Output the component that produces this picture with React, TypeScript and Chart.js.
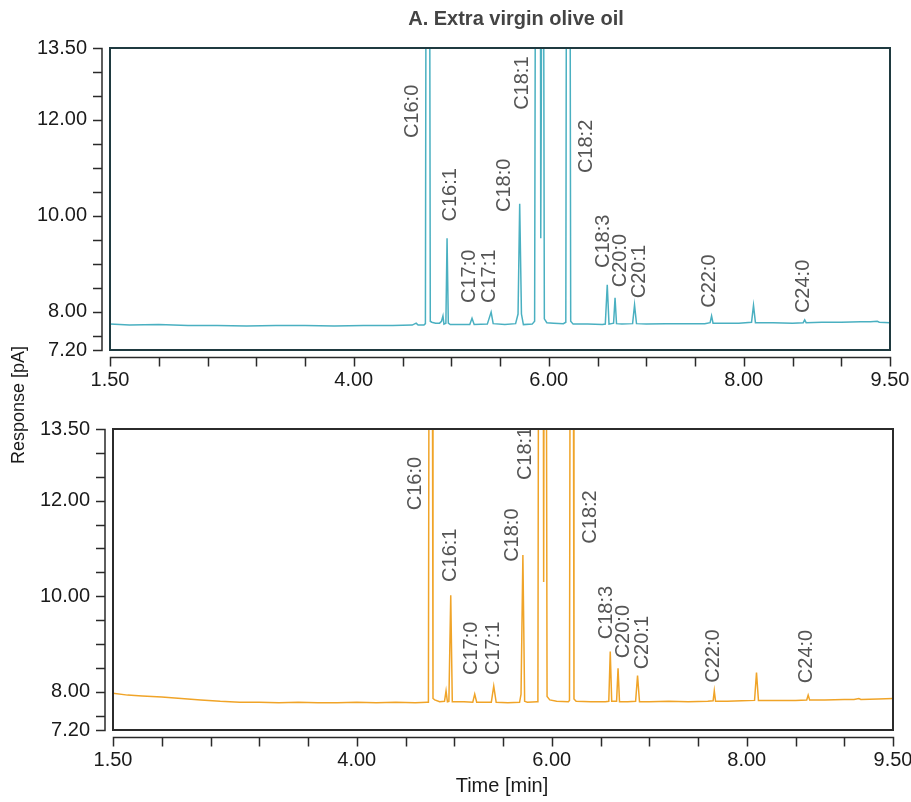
import React, { useEffect, useRef } from "react";
import { Chart, registerables } from "chart.js";

Chart.register(...registerables);

const FONT = '"Liberation Sans", Arial, Helvetica, sans-serif';

// ---- axis ticks ----
const X_TICKS = [1.5, 2, 2.5, 3, 3.5, 4, 4.5, 5, 5.5, 6, 6.5, 7, 7.5, 8, 8.5, 9, 9.5];
const X_LABELED = [1.5, 4, 6, 8, 9.5];
const Y_TICKS = [7.2, 7.5, 8, 8.5, 9, 9.5, 10, 10.5, 11, 11.5, 12, 12.5, 13, 13.5];
const Y_LABELED = [7.2, 8, 10, 12, 13.5];

// ---- panel A (top, teal) trace ----
const TIME_A = [
  1.5, 1.7, 2.0, 2.3, 2.6, 2.9, 3.2, 3.5, 3.8, 4.1, 4.4, 4.6, 4.64, 4.66, 4.72,
  4.735, 4.745, 4.775, 4.785, 4.8, 4.84, 4.88, 4.9, 4.915, 4.925, 4.945, 4.957, 4.97, 4.99,
  5.1, 5.19, 5.213, 5.235, 5.37, 5.409, 5.43, 5.55, 5.66, 5.685, 5.702, 5.72, 5.74, 5.83,
  5.855, 5.868, 5.912, 5.918, 5.924, 5.932, 5.942, 5.955, 5.98, 6.05, 6.15,
  6.175, 6.185, 6.215, 6.225, 6.25, 6.4, 6.55,
  6.58, 6.6, 6.618, 6.665, 6.68, 6.695, 6.75, 6.86, 6.88, 6.9, 7.0, 7.2, 7.4, 7.6,
  7.655, 7.67, 7.685, 7.8, 7.95, 8.08, 8.1, 8.12, 8.3, 8.5, 8.61, 8.625, 8.64,
  8.8, 9.0, 9.2, 9.3, 9.37, 9.39, 9.5,
];
const RESP_A = [
  7.74, 7.72, 7.73, 7.71, 7.71, 7.70, 7.71, 7.71, 7.70, 7.71, 7.71, 7.72, 7.76, 7.72, 7.72,
  7.75, 20, 20, 7.80, 7.78, 7.76, 7.76, 7.80, 7.91, 7.74, 7.76, 9.53, 7.76, 7.73,
  7.73, 7.73, 7.86, 7.73, 7.74, 7.99, 7.75, 7.73, 7.75, 7.95, 10.25, 7.95, 7.73, 7.74,
  7.80, 20, 20, 9.53, 12.62, 20, 20, 7.85, 7.77, 7.76, 7.75,
  7.78, 20, 20, 7.80, 7.74, 7.74, 7.73,
  7.74, 8.56, 7.74, 7.76, 8.29, 7.75, 7.74, 7.75, 8.14, 7.75, 7.74, 7.75, 7.75, 7.75,
  7.77, 7.91, 7.76, 7.76, 7.76, 7.78, 8.13, 7.77, 7.77, 7.76, 7.77, 7.83, 7.77,
  7.78, 7.78, 7.79, 7.79, 7.80, 7.78, 7.77,
];

// ---- panel B (bottom, orange) trace ----
const TIME_B = [
  1.5, 1.65, 1.8, 2.0, 2.2, 2.4, 2.6, 2.8, 3.0, 3.2, 3.4, 3.6, 3.8, 4.0, 4.2, 4.4, 4.6, 4.72,
  4.735, 4.745, 4.772, 4.782, 4.8, 4.85, 4.9, 4.916, 4.93, 4.945, 4.964, 4.98, 5.1,
  5.19, 5.21, 5.23, 5.38, 5.405, 5.43, 5.55, 5.67, 5.685, 5.704, 5.722, 5.75, 5.85,
  5.858, 5.868, 5.91, 5.917, 5.925, 5.94, 5.952, 5.98, 6.05, 6.17,
  6.182, 6.192, 6.218, 6.228, 6.25, 6.4, 6.55,
  6.585, 6.6, 6.615, 6.665, 6.68, 6.695, 6.78, 6.86, 6.88, 6.9, 7.0, 7.2, 7.4, 7.6,
  7.655, 7.667, 7.68, 7.8, 7.95, 8.08, 8.1, 8.12, 8.3, 8.5, 8.615, 8.63, 8.645,
  8.8, 9.0, 9.1, 9.15, 9.17, 9.35, 9.5,
];
const RESP_B = [
  7.97, 7.93, 7.91, 7.89, 7.86, 7.83, 7.80, 7.78, 7.78, 7.77, 7.78, 7.77, 7.77, 7.78, 7.77, 7.78, 7.77, 7.78,
  7.78, 20, 20, 7.86, 7.83, 7.79, 7.80, 8.02, 7.79, 7.80, 10.02, 7.79, 7.79,
  7.78, 7.95, 7.78, 7.78, 8.12, 7.78, 7.77, 7.78, 7.95, 10.86, 7.80, 7.78, 7.79,
  7.80, 20, 20, 10.30, 20, 20, 7.90, 7.83, 7.80, 7.79,
  7.82, 20, 20, 7.85, 7.80, 7.79, 7.79,
  7.80, 8.84, 7.80, 7.80, 8.49, 7.79, 7.79, 7.80, 8.34, 7.79, 7.79, 7.80, 7.79, 7.80,
  7.81, 8.02, 7.80, 7.80, 7.81, 7.82, 8.40, 7.82, 7.82, 7.82, 7.83, 7.93, 7.83,
  7.83, 7.84, 7.84, 7.86, 7.84, 7.85, 7.86,
];

// ---- peak annotations (time at label centre, response where label starts) ----
const PEAK_NAMES = ["C16:0", "C16:1", "C17:0", "C17:1", "C18:0", "C18:1", "C18:2", "C18:3", "C20:0", "C20:1", "C22:0", "C24:0"];
const PEAK_TIME_A = [4.6, 4.99, 5.186, 5.39, 5.55, 5.727, 6.385, 6.56, 6.736, 6.926, 7.645, 8.615];
const PEAK_RESP_A = [11.62, 9.88, 8.18, 8.18, 10.08, 12.21, 10.89, 8.91, 8.51, 8.28, 8.08, 7.97];
const PEAK_TIME_B = [4.6, 4.957, 5.18, 5.4, 5.594, 5.727, 6.394, 6.566, 6.736, 6.93, 7.66, 8.61];
const PEAK_RESP_B = [11.8, 10.3, 8.35, 8.35, 10.72, 12.43, 11.1, 9.1, 8.7, 8.47, 8.19, 8.18];

const TITLE = "A. Extra virgin olive oil";
const X_TITLE = "Time [min]";
const Y_TITLE = "Response [pA]";

const isIn = (arr: number[], v: number) => arr.some((a) => Math.abs(a - v) < 1e-6);

function decorPlugin(o: {
  frameColor: string;
  title?: string;
  xTitle?: string;
  times: number[];
  resps: number[];
}) {
  return {
    id: "decor",
    afterDraw(chart: any) {
      const { ctx, chartArea: a, scales } = chart;
      const xs = scales.x;
      const ys = scales.y;
      ctx.save();
      // peak labels (clipped to plot area)
      ctx.save();
      ctx.beginPath();
      ctx.rect(a.left, a.top, a.right - a.left, a.bottom - a.top);
      ctx.clip();
      ctx.fillStyle = "#555555";
      ctx.font = `20px ${FONT}`;
      ctx.textAlign = "left";
      ctx.textBaseline = "middle";
      PEAK_NAMES.forEach((n, i) => {
        const px = xs.getPixelForValue(o.times[i]);
        const py = ys.getPixelForValue(o.resps[i]);
        ctx.save();
        ctx.translate(px, py);
        ctx.rotate(-Math.PI / 2);
        ctx.fillText(n, 0, 0);
        ctx.restore();
      });
      ctx.restore();

      // frame
      ctx.strokeStyle = o.frameColor;
      ctx.lineWidth = 2;
      ctx.strokeRect(a.left, a.top, a.right - a.left, a.bottom - a.top);

      // y axis line + ticks
      ctx.strokeStyle = "#2a2a2a";
      ctx.lineWidth = 1.5;
      const ax = a.left - 8;
      ctx.beginPath();
      ctx.moveTo(ax, ys.getPixelForValue(Y_TICKS[0]));
      ctx.lineTo(ax, ys.getPixelForValue(Y_TICKS[Y_TICKS.length - 1]));
      ys.ticks.forEach((t: any) => {
        const y = Math.round(ys.getPixelForValue(t.value)) + 0.5;
        ctx.moveTo(ax + 0.75, y);
        ctx.lineTo(ax - 9, y);
      });
      ctx.stroke();

      // x axis line + ticks
      const ay = a.bottom + 7.5;
      ctx.beginPath();
      ctx.moveTo(xs.getPixelForValue(X_TICKS[0]), ay);
      ctx.lineTo(xs.getPixelForValue(X_TICKS[X_TICKS.length - 1]), ay);
      xs.ticks.forEach((t: any) => {
        const x = Math.round(xs.getPixelForValue(t.value)) + 0.5;
        ctx.moveTo(x, ay - 0.75);
        ctx.lineTo(x, ay + 9);
      });
      ctx.stroke();

      if (o.title) {
        ctx.fillStyle = "#444444";
        ctx.font = `bold 20px ${FONT}`;
        ctx.textAlign = "center";
        ctx.textBaseline = "middle";
        ctx.fillText(o.title, 516, 19);
      }
      if (o.xTitle) {
        ctx.fillStyle = "#1a1a1a";
        ctx.font = `20px ${FONT}`;
        ctx.textAlign = "center";
        ctx.textBaseline = "middle";
        ctx.fillText(o.xTitle, 502, 386);
      }
      ctx.restore();
    },
  };
}

function makeConfig(p: {
  times: number[];
  resps: number[];
  color: string;
  frameColor: string;
  padTop: number;
  padRight: number;
  yWidth: number;
  xHeight: number;
  title?: string;
  xTitle?: string;
  peakTimes: number[];
  peakResps: number[];
}): any {
  return {
    type: "line",
    data: {
      datasets: [
        {
          data: p.times.map((t, i) => ({ x: t, y: p.resps[i] })),
          borderColor: p.color,
          borderWidth: 1.5,
          pointRadius: 0,
          tension: 0,
          fill: false,
        },
      ],
    },
    options: {
      animation: false,
      responsive: false,
      maintainAspectRatio: false,
      events: [],
      layout: { padding: { left: 0, right: p.padRight, top: p.padTop, bottom: 0 } },
      plugins: { legend: { display: false }, tooltip: { enabled: false }, title: { display: false } },
      scales: {
        x: {
          type: "linear",
          min: 1.5,
          max: 9.5,
          afterBuildTicks: (s: any) => {
            s.ticks = X_TICKS.map((v) => ({ value: v }));
          },
          afterFit: (s: any) => {
            s.height = p.xHeight;
            s.paddingLeft = 0;
            s.paddingRight = 0;
          },
          grid: { display: false, drawTicks: false },
          border: { display: false },
          ticks: {
            autoSkip: false,
            maxRotation: 0,
            minRotation: 0,
            padding: 18,
            color: "#1a1a1a",
            font: { family: FONT, size: 20 },
            callback: (v: any) => (isIn(X_LABELED, Number(v)) ? Number(v).toFixed(2) : ""),
          },
        },
        y: {
          type: "linear",
          min: 7.2,
          max: 13.5,
          afterBuildTicks: (s: any) => {
            s.ticks = Y_TICKS.map((v) => ({ value: v }));
          },
          afterFit: (s: any) => {
            s.width = p.yWidth;
            s.paddingTop = 0;
            s.paddingBottom = 0;
          },
          grid: { display: false, drawTicks: false },
          border: { display: false },
          ticks: {
            autoSkip: false,
            padding: 23,
            color: "#1a1a1a",
            font: { family: FONT, size: 20 },
            callback: (v: any) => (isIn(Y_LABELED, Number(v)) ? Number(v).toFixed(2) : ""),
          },
        },
      },
    },
    plugins: [
      decorPlugin({
        frameColor: p.frameColor,
        title: p.title,
        xTitle: p.xTitle,
        times: p.peakTimes,
        resps: p.peakResps,
      }),
    ],
  };
}

export default function App() {
  const topRef = useRef<HTMLCanvasElement>(null);
  const botRef = useRef<HTMLCanvasElement>(null);

  useEffect(() => {
    const top = new Chart(
      topRef.current as HTMLCanvasElement,
      makeConfig({
        times: TIME_A,
        resps: RESP_A,
        color: "#4ab0c1",
        frameColor: "#1f3a40",
        padTop: 48,
        padRight: 21,
        yWidth: 110,
        xHeight: 50,
        title: TITLE,
        peakTimes: PEAK_TIME_A,
        peakResps: PEAK_RESP_A,
      })
    );
    const bot = new Chart(
      botRef.current as HTMLCanvasElement,
      makeConfig({
        times: TIME_B,
        resps: RESP_B,
        color: "#f0a428",
        frameColor: "#2b2b2b",
        padTop: 29,
        padRight: 18,
        yWidth: 113,
        xHeight: 72,
        xTitle: X_TITLE,
        peakTimes: PEAK_TIME_B,
        peakResps: PEAK_RESP_B,
      })
    );
    return () => {
      top.destroy();
      bot.destroy();
    };
  }, []);

  return (
    <div style={{ position: "absolute", left: 0, top: 0, width: 911, height: 802, background: "#ffffff", overflow: "hidden" }}>
      <div style={{ position: "absolute", left: 0, top: 0, width: 911, height: 400 }}>
        <canvas ref={topRef} width={911} height={400} style={{ width: 911, height: 400, display: "block" }} />
      </div>
      <div style={{ position: "absolute", left: 0, top: 400, width: 911, height: 402 }}>
        <canvas ref={botRef} width={911} height={402} style={{ width: 911, height: 402, display: "block" }} />
      </div>
      <div
        style={{
          position: "absolute",
          left: 18 - 100,
          top: 405 - 12,
          width: 200,
          height: 24,
          lineHeight: "24px",
          textAlign: "center",
          transform: "rotate(-90deg)",
          transformOrigin: "50% 50%",
          fontFamily: FONT,
          fontSize: 18,
          color: "#1a1a1a",
          whiteSpace: "nowrap",
        }}
      >
        {Y_TITLE}
      </div>
    </div>
  );
}
